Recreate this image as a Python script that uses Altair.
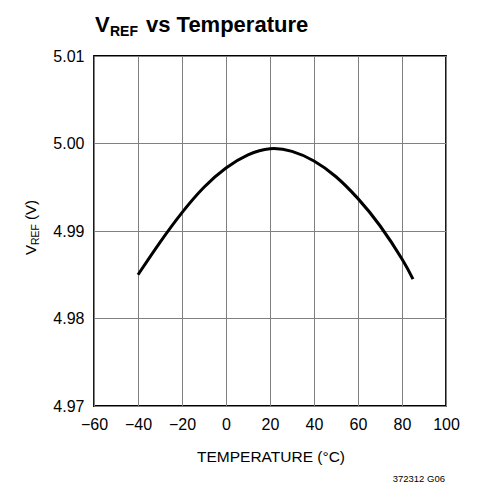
import altair as alt
import pandas as pd

# Data
temperature = [-40, -30, -20, -10, 0, 10, 20, 30, 40, 50, 60, 70, 80, 85]
vref = [4.9850, 4.9887, 4.9921, 4.9950, 4.9972, 4.9987, 4.9994, 4.9991,
        4.9980, 4.9962, 4.9937, 4.9906, 4.9868, 4.9845]

x_ticks = [-60, -40, -20, 0, 20, 40, 60, 80, 100]
y_ticks = [4.97, 4.98, 4.99, 5.00, 5.01]

FONT = "Liberation Sans, Arial, Helvetica, sans-serif"
W, H = 352, 350

df = pd.DataFrame({"t": temperature, "v": vref})
one = pd.DataFrame({"_": [0]})

line = alt.Chart(df).mark_line(color="black", strokeWidth=3, interpolate="natural").encode(
    x=alt.X("t:Q", scale=alt.Scale(domain=[-60, 100], nice=False, zero=False),
            axis=alt.Axis(values=x_ticks, title=None, format="d")),
    y=alt.Y("v:Q", scale=alt.Scale(domain=[4.97, 5.01], nice=False, zero=False),
            axis=alt.Axis(values=y_ticks, title=None, format=".2f")),
)


def txt(s, x, y, size, weight="normal", align="left", angle=0, baseline="alphabetic"):
    return alt.Chart(one).mark_text(
        font=FONT, fontSize=size, fontWeight=weight, align=align,
        baseline=baseline, angle=angle, color="black"
    ).encode(x=alt.value(x), y=alt.value(y), text=alt.value(s))


texts = [
    # title
    txt("V", 1, -24, 22, "bold"),
    txt("REF", 16, -20, 14, "bold"),
    txt("vs Temperature", 52, -24, 22, "bold"),
    # y axis title
    txt("V", -58, 199, 15, angle=270),
    txt("REF", -55, 189, 10.5, angle=270),
    txt("(V)", -58, 164, 15, angle=270),
    # x axis title
    txt("TEMPERATURE (°C)", W / 2 + 1, 406, 15.5, align="center"),
    # figure code
    txt("372312 G06", W - 1, 426, 9.5, align="right"),
]

chart = alt.layer(line, *texts).properties(
    width=W, height=H,
    autosize=alt.AutoSizeParams(type="none"),
    padding={"left": 86, "top": 48, "right": 24, "bottom": 80},
).configure_view(
    stroke="black", strokeWidth=1.8
).configure_axis(
    grid=True, gridColor="#808080", gridWidth=1, gridOpacity=1,
    domain=False, ticks=False, labelOverlap=False, labelFlush=False,
    labelFont=FONT, labelFontSize=16, labelColor="black", labelPadding=10,
)

chart.save("out.html", embed_options={"renderer": "svg", "actions": False})
